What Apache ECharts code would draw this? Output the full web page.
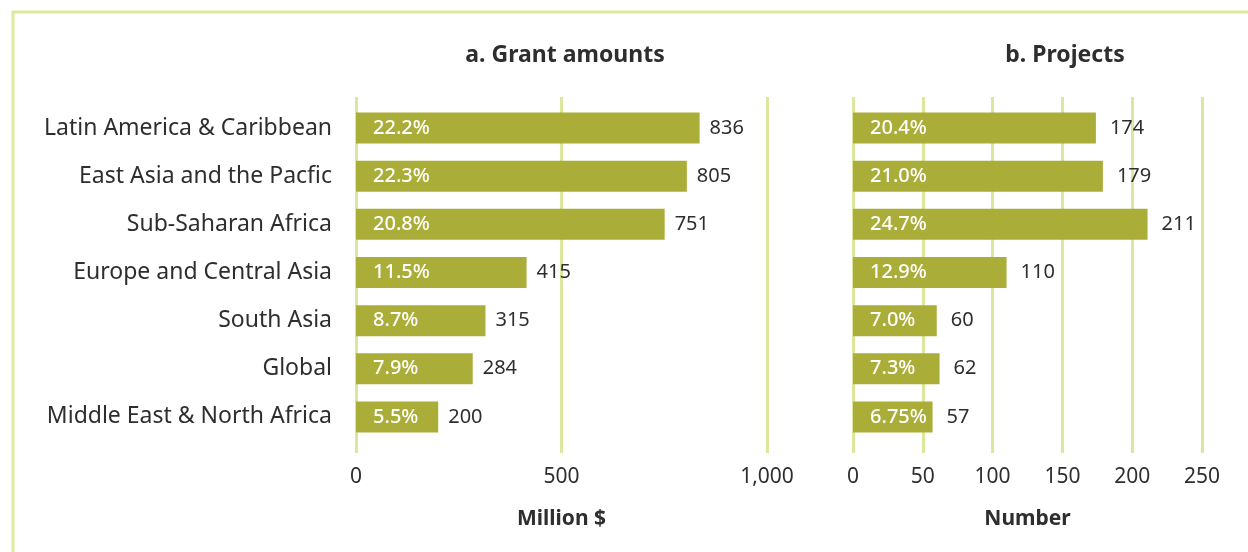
<!DOCTYPE html>
<html>
<head>
<meta charset="utf-8">
<script src="https://cdn.jsdelivr.net/npm/echarts@6/dist/echarts.min.js"></script>
<style>
  html, body { margin: 0; padding: 0; background: #fff; }
  #chart { width: 1248px; height: 552px; }
</style>
</head>
<body>
<div id="chart"></div>
<script>
// regions, top to bottom
const regions = [
  'Latin America & Caribbean',
  'East Asia and the Pacfic',
  'Sub-Saharan Africa',
  'Europe and Central Asia',
  'South Asia',
  'Global',
  'Middle East & North Africa'
];
const grantAmounts = [836, 805, 751, 415, 315, 284, 200];
const grantShares = ['22.2%', '22.3%', '20.8%', '11.5%', '8.7%', '7.9%', '5.5%'];
const projectCounts = [174, 179, 211, 110, 60, 62, 57];
const projectShares = ['20.4%', '21.0%', '24.7%', '12.9%', '7.0%', '7.3%', '6.75%'];
const grantTicks = [0, 500, 1000];
const projectTicks = [0, 50, 100, 150, 200, 250];

const FONT = '"Noto Sans", "Open Sans", sans-serif';
const BAR = '#aaae38';
const GRID = '#d9e89c';
const TEXT = '#2e2e2e';

const chart = echarts.init(document.getElementById('chart'));

function gridAxis(gridIndex, ticks, name) {
  return {
    type: 'value', gridIndex: gridIndex,
    min: ticks[0], max: ticks[ticks.length - 1], interval: ticks[1] - ticks[0],
    axisLine: { show: false }, axisTick: { show: false },
    splitLine: { show: true, lineStyle: { color: GRID, width: 3 } },
    axisLabel: {
      margin: 14, color: TEXT, fontFamily: FONT, fontSize: 21,
      formatter: v => v.toLocaleString('en-US')
    },
    name: name, nameLocation: 'middle', nameGap: 56,
    nameTextStyle: { color: TEXT, fontFamily: FONT, fontSize: 21, fontWeight: 'bold' }
  };
}
function barAxis(gridIndex, ticks) {
  return {
    type: 'value', gridIndex: gridIndex,
    min: ticks[0], max: ticks[ticks.length - 1],
    show: false, splitLine: { show: false }
  };
}
function emptyY(gridIndex) {
  return { type: 'category', gridIndex: gridIndex, data: regions, show: false };
}
function catY(gridIndex, showLabels) {
  return {
    type: 'category', gridIndex: gridIndex, data: regions, inverse: true,
    axisLine: { show: false }, axisTick: { show: false },
    axisLabel: {
      show: showLabels, margin: 24, color: TEXT, fontFamily: FONT, fontSize: 23,
      padding: [0, 0, 3, 0]
    }
  };
}
function shareSeries(axisIndex, values, shares) {
  return {
    type: 'bar', xAxisIndex: axisIndex, yAxisIndex: axisIndex,
    data: values, barWidth: 31, z: 3,
    itemStyle: { color: BAR },
    label: {
      show: true, position: 'insideLeft', distance: 17,
      color: '#fff', fontFamily: FONT, fontSize: 20, fontWeight: 500,
      formatter: p => shares[p.dataIndex]
    }
  };
}
function valueSeries(axisIndex, values, dist) {
  return {
    type: 'bar', xAxisIndex: axisIndex, yAxisIndex: axisIndex,
    data: values, barWidth: 31, barGap: '-100%', z: 2,
    itemStyle: { color: 'rgba(0,0,0,0)' },
    label: {
      show: true, position: 'right', distance: dist,
      color: TEXT, fontFamily: FONT, fontSize: 20
    }
  };
}

chart.setOption({
  animation: false,
  backgroundColor: '#fff',
  graphic: [{
    type: 'rect', shape: { x: 13, y: 12, width: 1300, height: 600 },
    style: { fill: 'none', stroke: '#dde99c', lineWidth: 3 }, silent: true
  }],
  title: [
    { text: 'a. Grant amounts', left: 560, top: 39, textAlign: 'center',
      textStyle: { color: TEXT, fontFamily: FONT, fontSize: 23, fontWeight: 'bold' } },
    { text: 'b. Projects', left: 1060, top: 39, textAlign: 'center',
      textStyle: { color: TEXT, fontFamily: FONT, fontSize: 23, fontWeight: 'bold' } }
  ],
  grid: [
    { left: 356, top: 97, width: 411, height: 356 },
    { left: 356, top: 104, width: 411, height: 337 },
    { left: 853, top: 97, width: 349, height: 356 },
    { left: 853, top: 104, width: 349, height: 337 }
  ],
  xAxis: [
    gridAxis(0, grantTicks, 'Million $'),
    barAxis(1, grantTicks),
    gridAxis(2, projectTicks, 'Number'),
    barAxis(3, projectTicks)
  ],
  yAxis: [
    emptyY(0),
    catY(1, true),
    emptyY(2),
    catY(3, false)
  ],
  series: [
    shareSeries(1, grantAmounts, grantShares),
    valueSeries(1, grantAmounts, 10),
    shareSeries(3, projectCounts, projectShares),
    valueSeries(3, projectCounts, 14)
  ]
});
</script>
</body>
</html>
